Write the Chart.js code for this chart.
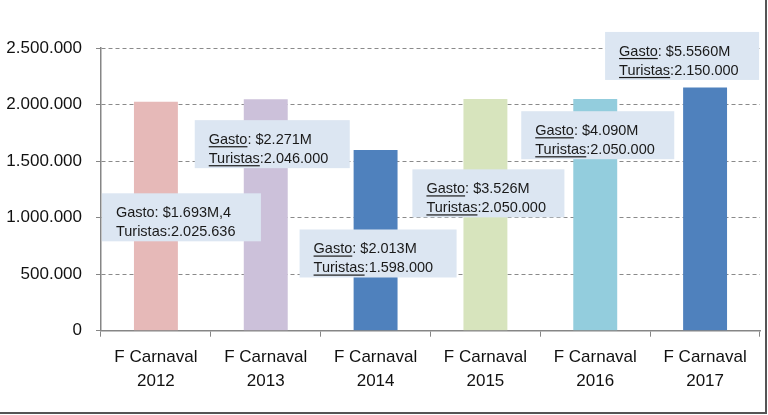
<!DOCTYPE html>
<html><head><meta charset="utf-8">
<script src="https://cdn.jsdelivr.net/npm/chart.js@4/dist/chart.umd.min.js"></script>
<style>html,body{margin:0;padding:0;background:#fff}#wrap{width:768px;height:415px;position:relative}</style>
</head><body><div id="wrap"><canvas id="c" width="768" height="415"></canvas></div>
<script>
const categories = [["F Carnaval","2012"],["F Carnaval","2013"],["F Carnaval","2014"],["F Carnaval","2015"],["F Carnaval","2016"],["F Carnaval","2017"]];
const turistas = [2025636, 2046000, 1598000, 2050000, 2050000, 2150000];
const gastoLabels = ["$1.693M,4", "$2.271M", "$2.013M", "$3.526M", "$4.090M", "$5.5560M"];
const turistasLabels = ["2.025.636", "2.046.000", "1.598.000", "2.050.000", "2.050.000", "2.150.000"];
const underlined = [false, true, true, true, true, true];
const barColors = ["#E6B9B8", "#CCC1DA", "#4F81BD", "#D7E4BD", "#93CDDD", "#4F81BD"];
const yTicks = [0, 500000, 1000000, 1500000, 2000000, 2500000];

// box placement: offset (px) from category centre, top in data units
const boxPlace = [
  {dx: -54, top: 1215000, w: 159},
  {dx: -71, top: 1862000, w: 155},
  {dx: -76, top: 895000, w: 157},
  {dx: -73, top: 1427000, w: 152},
  {dx: -74, top: 1941000, w: 153},
  {dx: -100, top: 2642000, w: 154}
];

function fmt(v){return v.toString().replace(/\B(?=(\d{3})+(?!\d))/g,'.');}

const FONT = '"Liberation Sans", Arial, sans-serif';

const labelPlugin = {
  id: 'labels',
  afterDatasetsDraw(chart){
    const ctx = chart.ctx, xs = chart.scales.x, ys = chart.scales.y;
    ctx.save();
    boxPlace.forEach((b,i)=>{
      const x = xs.getPixelForValue(i) + b.dx;
      const y = ys.getPixelForValue(b.top);
      const h = 48;
      ctx.fillStyle = '#DCE6F2';
      ctx.fillRect(x, y, b.w, h);
      ctx.font = '14.5px ' + FONT;
      ctx.fillStyle = '#1a1a1a';
      ctx.textBaseline = 'alphabetic';
      const lines = [["Gasto", ": " + gastoLabels[i]], ["Turistas", ":" + turistasLabels[i]]];
      lines.forEach((ln,k)=>{
        const tx = x + 14, ty = y + 24 + k*19;
        ctx.fillText(ln[0], tx, ty);
        const w0 = ctx.measureText(ln[0]).width;
        ctx.fillText(ln[1], tx + w0, ty);
        if (underlined[i]) {
          ctx.fillRect(tx, ty + 2, w0, 1.2);
        }
      });
    });
    ctx.restore();
  },
  afterDraw(chart){
    const ctx = chart.ctx;
    ctx.save();
    ctx.strokeStyle = '#555';
    ctx.lineWidth = 2;
    ctx.beginPath();
    ctx.moveTo(766, 0); ctx.lineTo(766, 413); ctx.lineTo(0, 413);
    ctx.stroke();
    ctx.restore();
  }
};

new Chart(document.getElementById('c'), {
  type: 'bar',
  data: {
    labels: categories,
    datasets: [{
      data: turistas,
      backgroundColor: barColors,
      barPercentage: 0.4,
      categoryPercentage: 1.0
    }]
  },
  options: {
    responsive: false,
    animation: false,
    devicePixelRatio: 1,
    layout: {padding: {top: 48, right: 8, left: 0, bottom: 13}},
    plugins: {legend: {display: false}, tooltip: {enabled: false}},
    scales: {
      x: {
        grid: {drawOnChartArea: false, drawTicks: true, tickLength: 6, color: '#868686', offset: true},
        border: {color: '#868686', width: 1.5},
        ticks: {color: '#111', font: {family: FONT, size: 17, lineHeight: 1.45}, padding: 8, maxRotation: 0, autoSkip: false}
      },
      y: {
        min: 0, max: 2500000,
        afterBuildTicks(s){ s.ticks = yTicks.map(v=>({value:v})); },
        afterFit(s){ s.width = 101; },
        grid: {color: '#8a8a8a', lineWidth: 1, drawTicks: true, tickLength: 5, tickColor: '#868686'},
        border: {color: '#868686', width: 1.5, dash: [4,3], display: true},
        ticks: {color: '#111', font: {family: FONT, size: 17}, padding: 14, callback: v => fmt(v)}
      }
    }
  },
  plugins: [labelPlugin]
});
</script></body></html>
